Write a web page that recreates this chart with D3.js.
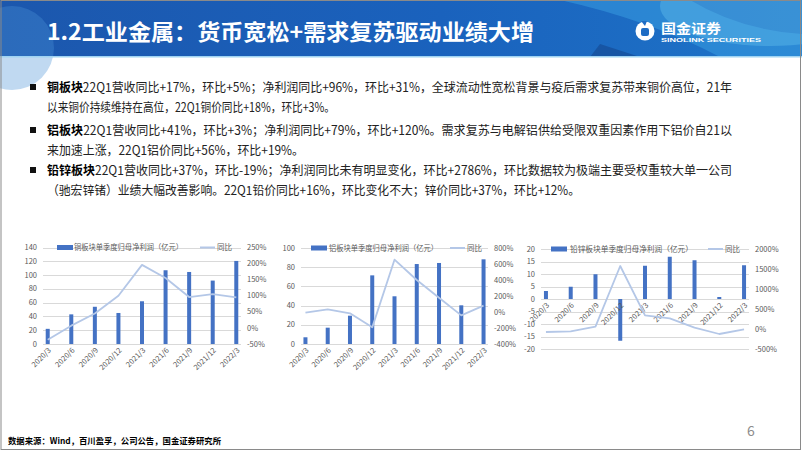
<!DOCTYPE html>
<html>
<head>
<meta charset="utf-8">
<script src="https://cdn.jsdelivr.net/npm/d3@7"></script>
<style>
body { margin: 0; background: #fff; }
svg { display: block; }
</style>
</head>
<body>
<div id="chart"></div>
<script>
var w = 802;
var h = 451;
var font = '"Microsoft YaHei","Noto Sans CJK SC","Noto Sans",sans-serif';

// data
var quarters = ["2020/3", "2020/6", "2020/9", "2020/12", "2021/3", "2021/6", "2021/9", "2021/12", "2022/3"];

var copperProfit = [22, 43, 54, 45, 62, 107, 104.5, 92, 120.5];
var copperYoY = [-37, 7, 45, 100, 196, 155, 96, 105, 95];
var copperLeftTicks = [0, 20, 40, 60, 80, 100, 120, 140];
var copperRightTicks = [-50, 0, 50, 100, 150, 200, 250];

var alumProfit = [7, 17, 29.5, 71.5, 49.7, 83.3, 84.4, 40.3, 88.2];
var alumYoY = [-9, 34, -17, -192, 654, 400, 179, -42, 79];
var alumLeftTicks = [0, 20, 40, 60, 80, 100];
var alumRightTicks = [-400, -200, 0, 200, 400, 600, 800];

var lzProfit = [3.2, 4.9, 9.9, -16.7, 13.3, 16.9, 15.5, 0.8, 13.5];
var lzYoY = [-75, -58, 58, 1575, 342, 267, 33, -125, -8];
var lzLeftTicks = [-20, -15, -10, -5, 0, 5, 10, 15, 20];
var lzRightTicks = [-500, 0, 500, 1000, 1500, 2000];

var bulletBold = ["铜板块", "铝板块", "铅锌板块"];
var bulletLines = [
    ["22Q1营收同比+17%，环比+5%；净利润同比+96%，环比+31%，全球流动性宽松背景与疫后需求复苏带来铜价高位，21年",
     "以来铜价持续维持在高位，22Q1铜价同比+18%，环比+3%。"],
    ["22Q1营收同比+41%，环比+3%；净利润同比+79%，环比+120%。需求复苏与电解铝供给受限双重因素作用下铝价自21以",
     "来加速上涨，22Q1铝价同比+56%，环比+19%。"],
    ["22Q1营收同比+37%，环比-19%；净利润同比未有明显变化，环比+2786%，环比数据较为极端主要受权重较大单一公司",
     "（驰宏锌锗）业绩大幅改善影响。22Q1铅价同比+16%，环比变化不大；锌价同比+37%，环比+12%。"]
];

var svg = d3.select("#chart")
            .append("svg")
            .attr("width", w)
            .attr("height", h);

// banner
var defs = svg.append("defs");
var grad = defs.append("linearGradient").attr("id", "bannerGrad");
grad.append("stop").attr("offset", "0%").attr("stop-color", "#1c57ad");
grad.append("stop").attr("offset", "55%").attr("stop-color", "#1a62bd");
grad.append("stop").attr("offset", "100%").attr("stop-color", "#1e74c8");

svg.append("rect").attr("x", 0).attr("y", 0).attr("width", w).attr("height", 57).attr("fill", "url(#bannerGrad)");
svg.append("circle").attr("cx", 12).attr("cy", 48).attr("r", 42).attr("fill", "#4a92d8").attr("opacity", 0.35);
svg.append("path").attr("d", "M560,0 L690,0 Q740,30 802,34 L802,57 L720,57 Q650,20 560,0 Z")
    .attr("fill", "#3fa6e6").attr("opacity", 0.45);
svg.append("ellipse").attr("cx", 770).attr("cy", 6).attr("rx", 110).attr("ry", 40).attr("fill", "#6cc8f0").attr("opacity", 0.35);
svg.append("path").attr("d", "M590,57 L640,57 L600,44 Z").attr("fill", "#123f86").attr("opacity", 0.5);
svg.append("rect").attr("x", 0).attr("y", 56).attr("width", w).attr("height", 1.5).attr("fill", "#9fd3f2");

svg.append("text")
    .attr("x", 47).attr("y", 40)
    .attr("font-family", font).attr("font-weight", "bold").attr("font-size", "22px")
    .attr("fill", "white")
    .attr("textLength", 487).attr("lengthAdjust", "spacingAndGlyphs")
    .text("1.2工业金属：货币宽松+需求复苏驱动业绩大增");

// logo
svg.append("circle").attr("cx", 645).attr("cy", 31).attr("r", 9.5).attr("fill", "white");
svg.append("rect").attr("x", 641).attr("y", 28).attr("width", 8).attr("height", 8).attr("rx", 2).attr("fill", "#1e6cc4");
svg.append("path").attr("d", "M641,21 L647,21 L645,26 Z").attr("fill", "#1e6cc4");
svg.append("text").attr("x", 661).attr("y", 33)
    .attr("font-family", font).attr("font-weight", "bold").attr("font-size", "13px").attr("fill", "white")
    .attr("textLength", 60).attr("lengthAdjust", "spacingAndGlyphs")
    .text("国金证券");
svg.append("text").attr("x", 661).attr("y", 42)
    .attr("font-family", "Arial, 'Liberation Sans', sans-serif").attr("font-weight", "bold").attr("font-size", "5.5px").attr("fill", "white")
    .attr("textLength", 100).attr("lengthAdjust", "spacingAndGlyphs")
    .text("SINOLINK SECURITIES");

// slide border
svg.append("rect").attr("x", 1).attr("y", 0.5).attr("width", w - 2.5).attr("height", h - 2)
    .attr("fill", "none").attr("stroke", "#8a8a8a").attr("stroke-width", 1);

// bullet text
var lineY = [[92, 112], [135, 155], [175, 195]];
var lineW = [[685, 288], [685, 257], [685, 533]];

bulletLines.forEach(function(lines, i) {
    svg.append("rect")
        .attr("x", 30).attr("y", lineY[i][0] - 8).attr("width", 6).attr("height", 6)
        .attr("fill", "#111");
    lines.forEach(function(t, j) {
        var txt = svg.append("text")
            .attr("x", 47).attr("y", lineY[i][j])
            .attr("font-family", font).attr("font-size", "12.5px").attr("fill", "#222")
            .attr("textLength", lineW[i][j]).attr("lengthAdjust", "spacingAndGlyphs");
        if (j == 0) {
            txt.append("tspan").attr("font-weight", "bold").attr("fill", "#000").text(bulletBold[i]);
        }
        txt.append("tspan").text(t);
    });
});

// footer
svg.append("text").attr("x", 8).attr("y", 444)
    .attr("font-family", font).attr("font-weight", "bold").attr("font-size", "8.5px").attr("fill", "#000")
    .attr("textLength", 213).attr("lengthAdjust", "spacingAndGlyphs")
    .text("数据来源：Wind，百川盈孚，公司公告，国金证券研究所");

svg.append("text").attr("x", 751).attr("y", 436)
    .attr("font-family", font).attr("font-size", "14px").attr("fill", "#8c8c8c")
    .attr("text-anchor", "middle")
    .text("6");

function drawChart(c) {
    var g = svg.append("g");

    var xScale = d3.scalePoint()
                    .domain(quarters)
                    .range([c.x0, c.x1])
                    .padding(0.2);

    var yLeft = d3.scaleLinear()
                    .domain(d3.extent(c.leftTicks))
                    .range([c.yBottom, c.yTop]);

    var yRight = d3.scaleLinear()
                    .domain(d3.extent(c.rightTicks))
                    .range([c.yBottom, c.yTop]);

    //gridlines
    g.selectAll("line.grid")
        .data(c.leftTicks)
        .enter()
        .append("line")
        .attr("x1", c.x0)
        .attr("x2", c.x1)
        .attr("y1", function(d) { return Math.round(yLeft(d)) + 0.5; })
        .attr("y2", function(d) { return Math.round(yLeft(d)) + 0.5; })
        .attr("stroke", "#d9d9d9")
        .attr("stroke-width", 1);

    g.selectAll("text.left")
        .data(c.leftTicks)
        .enter()
        .append("text")
        .attr("x", c.x0 - 6)
        .attr("y", function(d) { return yLeft(d); })
        .attr("dy", "0.35em")
        .attr("text-anchor", "end")
        .attr("font-family", font)
        .attr("font-size", "7.5px")
        .attr("fill", "#595959")
        .text(function(d) { return d; });

    g.selectAll("text.right")
        .data(c.rightTicks)
        .enter()
        .append("text")
        .attr("x", c.x1 + 6)
        .attr("y", function(d) { return yRight(d); })
        .attr("dy", "0.35em")
        .attr("font-family", font)
        .attr("font-size", "7.5px")
        .attr("fill", "#595959")
        .text(function(d) { return d + "%"; });

    //bars
    g.selectAll("rect.bar")
        .data(c.bars)
        .enter()
        .append("rect")
        .attr("x", function(d, i) { return xScale(quarters[i]) - 2; })
        .attr("y", function(d) { return yLeft(Math.max(0, d)); })
        .attr("width", 4)
        .attr("height", function(d) { return Math.abs(yLeft(d) - yLeft(0)); })
        .attr("fill", "#4472C4");

    //category labels
    g.selectAll("text.cat")
        .data(quarters)
        .enter()
        .append("text")
        .attr("transform", function(d) {
            return "translate(" + (xScale(d) + 2) + "," + (yLeft(0) + 5) + ") rotate(-45)";
        })
        .attr("dy", "0.35em")
        .attr("text-anchor", "end")
        .attr("font-family", font)
        .attr("font-size", "7.5px")
        .attr("fill", "#595959")
        .text(function(d) { return d; });

    //yoy line
    var line = d3.line()
                .x(function(d, i) { return xScale(quarters[i]); })
                .y(function(d) { return yRight(d); });

    g.append("path")
        .datum(c.yoy)
        .attr("d", line)
        .attr("fill", "none")
        .attr("stroke", "#B4C7E7")
        .attr("stroke-width", 1.8)
        .attr("stroke-linejoin", "round");

    //legend
    var ly = c.yTop;
    g.append("rect")
        .attr("x", c.legend[0]).attr("y", ly - 2.5)
        .attr("width", 16).attr("height", 5)
        .attr("fill", "#4472C4");
    g.append("text")
        .attr("x", c.legend[1]).attr("y", ly)
        .attr("dy", "0.35em")
        .attr("font-family", font).attr("font-size", "7.5px").attr("fill", "#595959")
        .attr("textLength", c.legend[2] - c.legend[1]).attr("lengthAdjust", "spacingAndGlyphs")
        .text(c.name);
    g.append("line")
        .attr("x1", c.legend[3]).attr("x2", c.legend[3] + 15)
        .attr("y1", ly).attr("y2", ly)
        .attr("stroke", "#B4C7E7").attr("stroke-width", 2);
    g.append("text")
        .attr("x", c.legend[3] + 17).attr("y", ly)
        .attr("dy", "0.35em")
        .attr("font-family", font).attr("font-size", "7.5px").attr("fill", "#595959")
        .text("同比");
}

drawChart({
    name: "铜板块单季度归母净利润（亿元）",
    bars: copperProfit, yoy: copperYoY,
    leftTicks: copperLeftTicks, rightTicks: copperRightTicks,
    x0: 43, x1: 241, yTop: 247.5, yBottom: 344,
    legend: [57, 74, 183, 200]
});

drawChart({
    name: "铝板块单季度归母净利润（亿元）",
    bars: alumProfit, yoy: alumYoY,
    leftTicks: alumLeftTicks, rightTicks: alumRightTicks,
    x0: 301, x1: 488, yTop: 248, yBottom: 344,
    legend: [311, 329, 438, 450]
});

drawChart({
    name: "铅锌板块单季度归母净利润（亿元）",
    bars: lzProfit, yoy: lzYoY,
    leftTicks: lzLeftTicks, rightTicks: lzRightTicks,
    x0: 541, x1: 749, yTop: 249, yBottom: 349,
    legend: [551, 570, 693, 708]
});
</script>
</body>
</html>
